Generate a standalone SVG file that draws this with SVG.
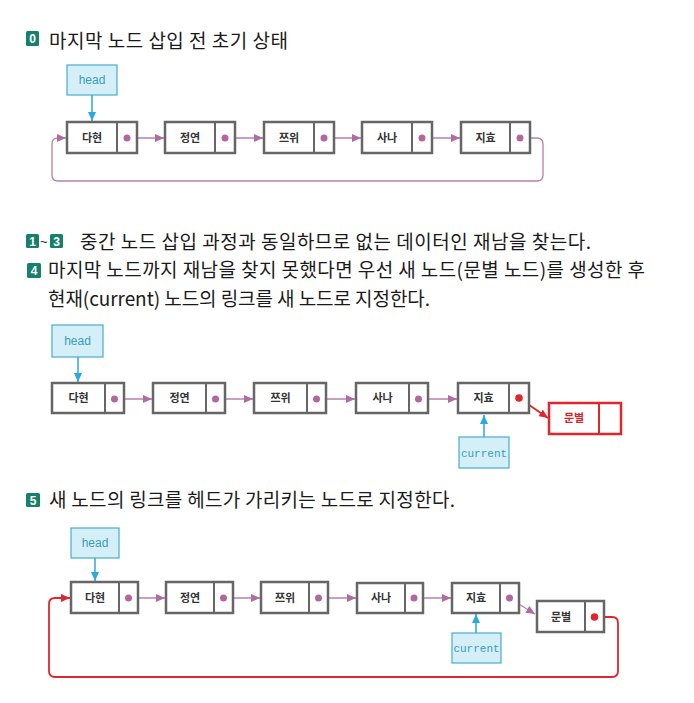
<svg xmlns="http://www.w3.org/2000/svg" width="694" height="703" viewBox="0 0 694 703">
<style>
.bg{fill:#ffffff}
.txt{font-family:"Noto Sans CJK KR","Noto Sans",sans-serif;font-size:19px;fill:#1a1a1a}
.badge{fill:#17806d}
.bnum{font-family:"Liberation Sans",Arial,sans-serif;font-size:12px;font-weight:bold;fill:#ffffff;text-anchor:middle}
.tilde{font-family:"Liberation Sans",Arial,sans-serif;font-size:13px;fill:#1a1a1a}
.node{fill:#ffffff;stroke:#666666;stroke-width:2.5}
.nodeR{fill:#ffffff;stroke:#e0262c;stroke-width:2.5}
.div{stroke:#666666;stroke-width:2}
.divR{stroke:#e0262c;stroke-width:2}
.lbl{font-family:"Noto Sans CJK KR","Noto Sans",sans-serif;font-size:11px;font-weight:bold;fill:#333333;text-anchor:middle}
.lblR{font-family:"Noto Sans CJK KR","Noto Sans",sans-serif;font-size:11px;font-weight:bold;fill:#d0262c;text-anchor:middle}
.ptr{fill:#d4eff8;stroke:#45aec8;stroke-width:1.2}
.ptrT{font-family:"Liberation Sans",Arial,sans-serif;font-size:12px;fill:#3a9cb8;text-anchor:middle}
.ptrM{font-family:"Liberation Mono","DejaVu Sans Mono",monospace;font-size:11px;fill:#3a9cb8;text-anchor:middle}
.dot{fill:#b3679e}
.dotR{fill:#e0262c}
.link{fill:none;stroke:#b980aa;stroke-width:1.3}
.linkR{fill:none;stroke:#e0262c;stroke-width:1.8}
.hp{fill:none;stroke:#2aa9df;stroke-width:1.5}
</style>
<defs>
<marker id="ap" markerUnits="userSpaceOnUse" markerWidth="10" markerHeight="8" refX="9" refY="4" orient="auto"><path d="M0,0 L9,4 L0,8 z" fill="#b06ca0"/></marker>
<marker id="ar" markerUnits="userSpaceOnUse" markerWidth="10" markerHeight="8" refX="9" refY="4" orient="auto"><path d="M0,0 L9,4 L0,8 z" fill="#e0262c"/></marker>
<marker id="ab" markerUnits="userSpaceOnUse" markerWidth="10" markerHeight="10" refX="9" refY="4" orient="auto"><path d="M0,0 L9,4 L0,8 z" fill="#2aa9df"/></marker>
</defs>
<rect class="bg" x="0" y="0" width="694" height="703"/>

<!-- texts -->
<g id="title0">
<rect class="badge" x="26" y="31" width="13" height="15" rx="1.5"/>
<text class="bnum" x="32.5" y="43">0</text>
<text class="txt" x="49" y="48" textLength="239" lengthAdjust="spacing">마지막 노드 삽입 전 초기 상태</text>
</g>
<g id="step13">
<rect class="badge" x="26" y="234" width="13" height="14" rx="1.5"/>
<text class="bnum" x="32.5" y="245.5">1</text>
<text class="tilde" x="40" y="246">~</text>
<rect class="badge" x="50" y="234" width="13" height="14" rx="1.5"/>
<text class="bnum" x="56.5" y="245.5">3</text>
<text class="txt" x="80" y="249" textLength="511" lengthAdjust="spacing">중간 노드 삽입 과정과 동일하므로 없는 데이터인 재남을 찾는다.</text>
</g>
<g id="step4">
<rect class="badge" x="27" y="263" width="14" height="15" rx="1.5"/>
<text class="bnum" x="34" y="275">4</text>
<text class="txt" x="48" y="277" textLength="597" lengthAdjust="spacing">마지막 노드까지 재남을 찾지 못했다면 우선 새 노드(문별 노드)를 생성한 후</text>
<text class="txt" x="48" y="306" textLength="382" lengthAdjust="spacing">현재(current) 노드의 링크를 새 노드로 지정한다.</text>
</g>
<g id="step5">
<rect class="badge" x="26" y="493" width="14" height="14" rx="1.5"/>
<text class="bnum" x="33" y="504.5">5</text>
<text class="txt" x="49" y="507" textLength="406" lengthAdjust="spacing">새 노드의 링크를 헤드가 가리키는 노드로 지정한다.</text>
</g>

<!-- Diagram 1 -->
<g id="d1-connectors">
<line class="hp" x1="92" y1="95" x2="92" y2="121" marker-end="url(#ab)"/>
<line class="link" x1="127" y1="138" x2="164" y2="138" marker-end="url(#ap)"/>
<line class="link" x1="225" y1="138" x2="263" y2="138" marker-end="url(#ap)"/>
<line class="link" x1="324" y1="138" x2="361" y2="138" marker-end="url(#ap)"/>
<line class="link" x1="422" y1="138" x2="460" y2="138" marker-end="url(#ap)"/>
<path class="link" d="M521 138 H537 Q543 138 543 144 V175 Q543 181 537 181 H58 Q52 181 52 175 V144 Q52 138 58 138 H66" marker-end="url(#ap)"/>
</g>
<g id="d1-head"><rect class="ptr" x="67" y="65" width="50" height="30"/><text class="ptrT" x="92" y="84">head</text></g>
<g id="d1-n1"><rect class="node" x="67" y="122" width="70" height="31"/><line class="div" x1="117" y1="122" x2="117" y2="153"/><text class="lbl" x="92" y="142">다현</text><circle class="dot" cx="127" cy="138" r="3.5"/></g>
<g id="d1-n2"><rect class="node" x="165" y="122" width="70" height="31"/><line class="div" x1="215" y1="122" x2="215" y2="153"/><text class="lbl" x="190" y="142">정연</text><circle class="dot" cx="225" cy="138" r="3.5"/></g>
<g id="d1-n3"><rect class="node" x="264" y="122" width="70" height="31"/><line class="div" x1="314" y1="122" x2="314" y2="153"/><text class="lbl" x="289" y="142">쯔위</text><circle class="dot" cx="324" cy="138" r="3.5"/></g>
<g id="d1-n4"><rect class="node" x="362" y="122" width="70" height="31"/><line class="div" x1="412" y1="122" x2="412" y2="153"/><text class="lbl" x="387" y="142">사나</text><circle class="dot" cx="422" cy="138" r="3.5"/></g>
<g id="d1-n5"><rect class="node" x="461" y="122" width="69" height="31"/><line class="div" x1="510" y1="122" x2="510" y2="153"/><text class="lbl" x="485.5" y="142">지효</text><circle class="dot" cx="520" cy="138" r="3.5"/></g>

<!-- Diagram 2 -->
<g id="d2-connectors">
<line class="hp" x1="78" y1="357" x2="78" y2="382" marker-end="url(#ab)"/>
<line class="link" x1="114" y1="399" x2="152" y2="399" marker-end="url(#ap)"/>
<line class="link" x1="215" y1="399" x2="253" y2="399" marker-end="url(#ap)"/>
<line class="link" x1="316" y1="399" x2="355" y2="399" marker-end="url(#ap)"/>
<line class="link" x1="418" y1="399" x2="457" y2="399" marker-end="url(#ap)"/>
<line class="linkR" x1="519" y1="398" x2="548" y2="418" marker-end="url(#ar)"/>
<line class="hp" x1="484" y1="437" x2="484" y2="415" marker-end="url(#ab)"/>
</g>
<g id="d2-head"><rect class="ptr" x="52" y="325" width="51" height="32"/><text class="ptrT" x="77.5" y="345">head</text></g>
<g id="d2-n1"><rect class="node" x="52" y="383" width="72" height="30"/><line class="div" x1="105" y1="383" x2="105" y2="413"/><text class="lbl" x="78.5" y="402">다현</text><circle class="dot" cx="114.5" cy="399" r="3.5"/></g>
<g id="d2-n2"><rect class="node" x="153" y="383" width="72" height="30"/><line class="div" x1="206" y1="383" x2="206" y2="413"/><text class="lbl" x="179.5" y="402">정연</text><circle class="dot" cx="215.5" cy="399" r="3.5"/></g>
<g id="d2-n3"><rect class="node" x="254" y="383" width="72" height="30"/><line class="div" x1="307" y1="383" x2="307" y2="413"/><text class="lbl" x="280.5" y="402">쯔위</text><circle class="dot" cx="316.5" cy="399" r="3.5"/></g>
<g id="d2-n4"><rect class="node" x="356" y="383" width="72" height="30"/><line class="div" x1="409" y1="383" x2="409" y2="413"/><text class="lbl" x="382.5" y="402">사나</text><circle class="dot" cx="418.5" cy="399" r="3.5"/></g>
<g id="d2-n5"><rect class="node" x="458" y="383" width="71" height="30"/><line class="div" x1="509" y1="383" x2="509" y2="413"/><text class="lbl" x="483.5" y="402">지효</text><circle class="dotR" cx="519" cy="398" r="3.8"/></g>
<g id="d2-new"><rect class="nodeR" x="549" y="403" width="72" height="31"/><line class="divR" x1="599" y1="403" x2="599" y2="434"/><text class="lblR" x="574" y="422">문별</text></g>
<g id="d2-current"><rect class="ptr" x="459" y="437" width="50" height="31"/><text class="ptrM" x="484" y="457">current</text></g>

<!-- Diagram 3 -->
<g id="d3-connectors">
<line class="hp" x1="95" y1="558" x2="95" y2="581" marker-end="url(#ab)"/>
<line class="link" x1="128" y1="598" x2="165" y2="598" marker-end="url(#ap)"/>
<line class="link" x1="223" y1="598" x2="260" y2="598" marker-end="url(#ap)"/>
<line class="link" x1="318" y1="598" x2="356" y2="598" marker-end="url(#ap)"/>
<line class="link" x1="414" y1="598" x2="451" y2="598" marker-end="url(#ap)"/>
<line class="link" x1="509" y1="598" x2="535" y2="614" marker-end="url(#ap)"/>
<path class="linkR" d="M594 617 H612 Q618 617 618 623 V671 Q618 677 612 677 H55 Q49 677 49 671 V604 Q49 598 55 598 H70" marker-end="url(#ar)"/>
<line class="hp" x1="476" y1="633" x2="476" y2="614" marker-end="url(#ab)"/>
</g>
<g id="d3-head"><rect class="ptr" x="71" y="528" width="48" height="30"/><text class="ptrT" x="95" y="547">head</text></g>
<g id="d3-n1"><rect class="node" x="71" y="582" width="67" height="31"/><line class="div" x1="119" y1="582" x2="119" y2="613"/><text class="lbl" x="95" y="602">다현</text><circle class="dot" cx="128.5" cy="598" r="3.5"/></g>
<g id="d3-n2"><rect class="node" x="166" y="582" width="67" height="31"/><line class="div" x1="214" y1="582" x2="214" y2="613"/><text class="lbl" x="190" y="602">정연</text><circle class="dot" cx="223.5" cy="598" r="3.5"/></g>
<g id="d3-n3"><rect class="node" x="261" y="582" width="67" height="31"/><line class="div" x1="309" y1="582" x2="309" y2="613"/><text class="lbl" x="285" y="602">쯔위</text><circle class="dot" cx="318.5" cy="598" r="3.5"/></g>
<g id="d3-n4"><rect class="node" x="357" y="583" width="66" height="30"/><line class="div" x1="405" y1="583" x2="405" y2="613"/><text class="lbl" x="381" y="602">사나</text><circle class="dot" cx="414" cy="598" r="3.5"/></g>
<g id="d3-n5"><rect class="node" x="452" y="583" width="67" height="30"/><line class="div" x1="500" y1="583" x2="500" y2="613"/><text class="lbl" x="476" y="602">지효</text><circle class="dot" cx="509.5" cy="598" r="3.5"/></g>
<g id="d3-new"><rect class="node" x="537" y="601" width="67" height="31"/><line class="div" x1="585" y1="601" x2="585" y2="632"/><text class="lbl" x="561" y="621">문별</text><circle class="dotR" cx="594.5" cy="617" r="3.8"/></g>
<g id="d3-current"><rect class="ptr" x="452" y="633" width="49" height="30"/><text class="ptrM" x="476.5" y="652">current</text></g>
</svg>
